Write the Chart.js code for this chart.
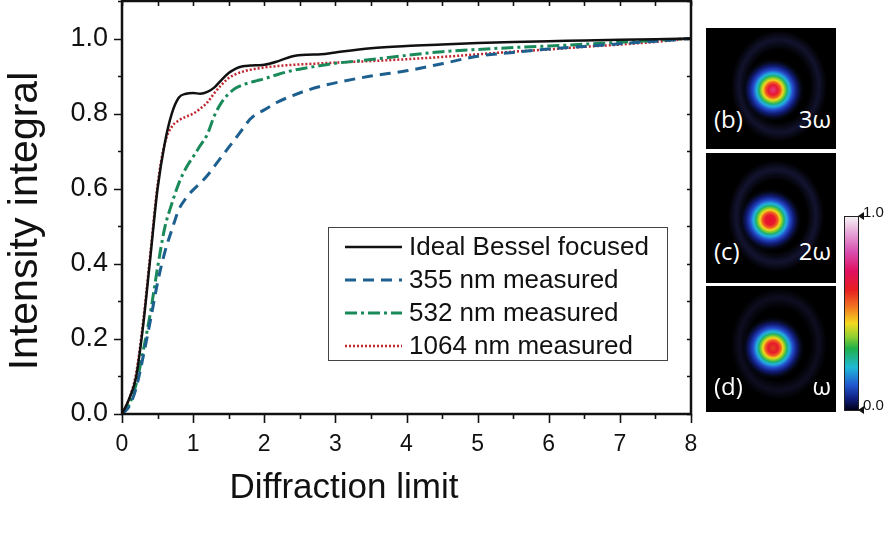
<!DOCTYPE html>
<html>
<head>
<meta charset="utf-8">
<script src="https://cdn.jsdelivr.net/npm/chart.js@4.4.1/dist/chart.umd.min.js"></script>
<style>
  body { margin: 0; background: #fff; }
  #wrap { position: relative; width: 890px; height: 556px; overflow: hidden; }
  #chart { position: absolute; left: 0; top: 0; }
  .panel { position: absolute; left: 706px; width: 130px; background: #000; overflow: hidden; }
  .panel span { position: absolute; color: #fff; font-family: "Open Sans", sans-serif; font-size: 24px; line-height: 1; }
  .panel .tag { left: 8px; }
  .panel .freq { right: 5px; }
  #cbar { position: absolute; left: 844px; top: 216px; width: 13px; height: 193px; border: 1px solid #222;
    background: linear-gradient(to bottom, #f6f2f6 0%, #e6a8d8 8%, #d850b0 18%, #e01060 28%, #e82020 38%,
      #f07a20 47%, #f4d820 55%, #90d030 62%, #20b048 68%, #20b8d8 78%, #2058d0 87%, #102080 94%, #000018 100%); }
  .cbl { position: absolute; left: 863px; font-family: "Liberation Sans", Arial, sans-serif; font-size: 15px; color: #111; }
  .tri { position: absolute; left: 858px; width: 0; height: 0; border-top: 4px solid transparent;
    border-bottom: 4px solid transparent; border-right: 6px solid #111; }
</style>
</head>
<body>
<div id="wrap">
  <canvas id="chart" width="890" height="556"></canvas>

  <div class="panel" id="pb" style="top:28px;height:121px;">
    <span class="tag" style="top:79px;">(b)</span><span class="freq" style="top:79px;">3ω</span>
  </div>
  <div class="panel" id="pc" style="top:153px;height:130px;">
    <span class="tag" style="top:86px;">(c)</span><span class="freq" style="top:86px;">2ω</span>
  </div>
  <div class="panel" id="pd" style="top:286px;height:126px;">
    <span class="tag" style="top:88px;">(d)</span><span class="freq" style="top:88px;">ω</span>
  </div>

  <div id="cbar"></div>
  <div class="tri" style="top:212px;"></div>
  <div class="tri" style="top:406px;"></div>
  <div class="cbl" style="top:203px;">1.0</div>
  <div class="cbl" style="top:396px;">0.0</div>
</div>

<script>
// Encircled intensity integral vs. radius (in units of the diffraction limit)
const radius = [0, 0.1, 0.2, 0.3, 0.4, 0.5, 0.6, 0.7, 0.8, 0.9, 1.0, 1.1, 1.2, 1.3, 1.4, 1.5, 1.6, 1.7, 1.8, 1.9,
                2.0, 2.2, 2.4, 2.6, 2.8, 3.0, 3.5, 4.0, 4.5, 5.0, 5.5, 6.0, 6.5, 7.0, 7.5, 8.0];

const idealBessel = [0, 0.04, 0.10, 0.24, 0.42, 0.60, 0.72, 0.80, 0.843, 0.853, 0.855, 0.853, 0.858, 0.870, 0.890,
                     0.908, 0.920, 0.926, 0.928, 0.929, 0.930, 0.940, 0.953, 0.957, 0.958, 0.963, 0.974, 0.980,
                     0.984, 0.988, 0.991, 0.993, 0.995, 0.997, 0.998, 1.0];

const measured355 = [0, 0.02, 0.07, 0.155, 0.25, 0.35, 0.43, 0.49, 0.545, 0.575, 0.597, 0.615, 0.635, 0.660, 0.685,
                     0.710, 0.735, 0.760, 0.785, 0.800, 0.810, 0.832, 0.848, 0.862, 0.873, 0.882, 0.900, 0.914,
                     0.933, 0.953, 0.963, 0.972, 0.979, 0.986, 0.993, 1.0];

const measured532 = [0, 0.025, 0.08, 0.17, 0.27, 0.39, 0.495, 0.56, 0.615, 0.655, 0.685, 0.715, 0.745, 0.795, 0.830,
                     0.853, 0.868, 0.877, 0.883, 0.888, 0.893, 0.905, 0.915, 0.922, 0.928, 0.934, 0.944, 0.955,
                     0.965, 0.971, 0.976, 0.980, 0.985, 0.990, 0.995, 1.0];

const measured1064 = [0, 0.04, 0.11, 0.25, 0.43, 0.61, 0.72, 0.765, 0.782, 0.792, 0.800, 0.813, 0.830, 0.855, 0.877,
                      0.895, 0.905, 0.912, 0.917, 0.920, 0.923, 0.927, 0.930, 0.932, 0.934, 0.936, 0.940, 0.945,
                      0.951, 0.958, 0.965, 0.971, 0.978, 0.984, 0.991, 1.0];

const seriesLabels = ['Ideal Bessel focused', '355 nm measured', '532 nm measured', '1064 nm measured'];

const FONT = '"Liberation Sans", Arial, sans-serif';
const INK = '#111';

const toPoints = ys => ys.map((y, i) => ({ x: radius[i], y }));

// Chart.js reserves room for half-labels at the axis ends; the frame here is fixed instead
const fixBox = (w, h) => s => {
    if (w) s.width = w;
    if (h) s.height = h;
    s.paddingTop = s.paddingBottom = s.paddingLeft = s.paddingRight = 0;
};

// Frame, mirrored ticks, minor ticks and the axis titles
const framePlugin = {
    id: 'frame',
    afterDraw(chart) {
        const { ctx, chartArea: a, scales: { x, y } } = chart;
        ctx.save();
        ctx.strokeStyle = INK;
        ctx.lineWidth = 1.6;
        for (let v = 0; v <= 8.001; v += 0.5) {
            const px = Math.round(x.getPixelForValue(v)) + 0.5;
            const major = Math.abs(v - Math.round(v)) < 1e-6;
            ctx.beginPath();
            ctx.moveTo(px, a.bottom); ctx.lineTo(px, a.bottom + (major ? 9 : 5));
            ctx.moveTo(px, a.top); ctx.lineTo(px, a.top + 5);
            ctx.stroke();
        }
        for (let v = 0; v <= 1.1001; v += 0.1) {
            const py = Math.round(y.getPixelForValue(v)) + 0.5;
            const major = Math.round(v * 10) % 2 === 0;
            ctx.beginPath();
            ctx.moveTo(a.left, py); ctx.lineTo(a.left - (major ? 8 : 4), py);
            ctx.moveTo(a.right, py); ctx.lineTo(a.right - 4, py);
            ctx.stroke();
        }
        ctx.lineWidth = 2.5;
        ctx.strokeRect(a.left, a.top, a.right - a.left, a.bottom - a.top);

        ctx.fillStyle = INK;
        ctx.font = `35px ${FONT}`;
        ctx.textAlign = 'center';
        ctx.textBaseline = 'alphabetic';
        ctx.fillText('Diffraction limit', 344, 498);

        ctx.translate(37, 221);
        ctx.rotate(-Math.PI / 2);
        ctx.font = `41px ${FONT}`;
        ctx.fillText('Intensity integral', 0, 0);
        ctx.restore();
    }
};

// Boxed legend inside the plot, built from the dataset styles
const legendPlugin = {
    id: 'boxLegend',
    afterDraw(chart) {
        const { ctx, chartArea: a } = chart;
        const bx = a.left + 206, by = a.top + 226, bw = 339, bh = 133;
        ctx.save();
        ctx.fillStyle = '#fff';
        ctx.fillRect(bx, by, bw, bh);
        ctx.strokeStyle = '#444';
        ctx.lineWidth = 1;
        ctx.strokeRect(bx + 0.5, by + 0.5, bw, bh);
        ctx.font = `26px ${FONT}`;
        ctx.textBaseline = 'middle';
        ctx.textAlign = 'left';
        chart.data.datasets.forEach((ds, i) => {
            const cy = by + 20 + i * 33;
            ctx.strokeStyle = ds.borderColor;
            ctx.lineWidth = ds.borderWidth;
            ctx.setLineDash(ds.borderDash || []);
            ctx.beginPath();
            ctx.moveTo(bx + 17, cy); ctx.lineTo(bx + 74, cy);
            ctx.stroke();
            ctx.setLineDash([]);
            ctx.fillStyle = INK;
            ctx.fillText(ds.label, bx + 81, cy + 1);
        });
        ctx.restore();
    }
};

new Chart(document.getElementById('chart'), {
    type: 'line',
    data: {
        datasets: [
            { label: seriesLabels[0], data: toPoints(idealBessel), borderColor: '#111', borderWidth: 2.5 },
            { label: seriesLabels[1], data: toPoints(measured355), borderColor: '#1d5f8e', borderWidth: 3,
              borderDash: [11, 7] },
            { label: seriesLabels[2], data: toPoints(measured532), borderColor: '#1b8a5a', borderWidth: 3,
              borderDash: [12, 4, 3, 4] },
            { label: seriesLabels[3], data: toPoints(measured1064), borderColor: '#c0262e', borderWidth: 2.5,
              borderDash: [2, 2] },
        ]
    },
    options: {
        responsive: false,
        animation: false,
        devicePixelRatio: 1,
        layout: { padding: { top: 1, right: 199, left: 0, bottom: 0 } },
        elements: {
            point: { radius: 0 },
            line: { cubicInterpolationMode: 'monotone', fill: false }
        },
        plugins: { legend: { display: false }, tooltip: { enabled: false } },
        scales: {
            x: {
                type: 'linear', min: 0, max: 8,
                grid: { display: false, drawTicks: false },
                border: { display: false },
                ticks: { stepSize: 1, padding: 17, color: INK, font: { family: FONT, size: 23 } },
                afterFit: fixBox(0, 142)
            },
            y: {
                min: 0, max: 1.1,
                grid: { display: false, drawTicks: false },
                border: { display: false },
                ticks: {
                    stepSize: 0.2, padding: 14, color: INK, font: { family: FONT, size: 27 },
                    callback: v => (v > 1.05 ? '' : v.toFixed(1))
                },
                afterFit: fixBox(122, 0)
            }
        }
    },
    plugins: [framePlugin, legendPlugin]
});
</script>
<script>
// Beam profile insets: false-colour spots with a faint off-centre ring
const spots = {
    pb: { cx: 67, cy: 62, core: '#e23a86', halo: 'rgba(60,60,150,0.30)' },
    pc: { cx: 64, cy: 67, core: '#e8102a', halo: 'rgba(60,60,150,0.32)' },
    pd: { cx: 67, cy: 62, core: '#e0401a', halo: 'rgba(60,60,150,0.22)' },
};
Object.entries(spots).forEach(([id, s]) => {
    const ring = `radial-gradient(circle at ${s.cx}px ${s.cy}px, ${s.core} 0px, #e8182e 5px, #f06a1c 8px, #f2d820 10px,` +
        ` #6cc832 12.5px, #20b070 14px, #22b0e0 16.5px, #2448c8 20px, #101a70 24px, #050818 28px, rgba(0,0,0,0) 31px)`;
    const haze = `radial-gradient(ellipse 50px 58px at ${s.cx + 6}px ${s.cy - 4}px, rgba(0,0,0,0) 62%, ${s.halo} 80%, rgba(0,0,0,0) 96%)`;
    document.getElementById(id).style.backgroundImage = `${ring}, ${haze}`;
});
</script>
</body>
</html>
